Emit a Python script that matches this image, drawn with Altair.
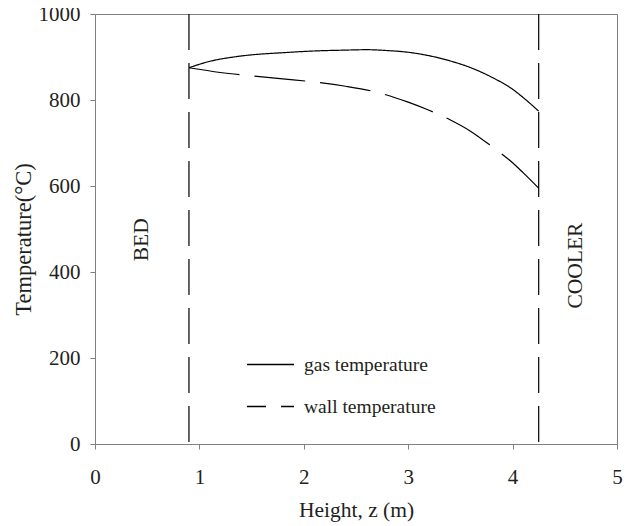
import altair as alt
import pandas as pd

# gas temperature curve
gas_z = [0.9, 1.1, 1.3, 1.5, 1.8, 2.1, 2.4, 2.6, 2.8, 3.0, 3.2, 3.4, 3.6, 3.8, 4.0, 4.1, 4.25]
gas_t = [875, 890, 899, 905, 910, 914, 916, 917, 915, 911, 903, 891, 875, 853, 825, 806, 774]

# wall temperature curve
wall_z = [0.9, 1.2, 1.5, 1.8, 2.1, 2.4, 2.7, 3.0, 3.2, 3.4, 3.6, 3.8, 4.0, 4.1, 4.25]
wall_t = [875, 864, 856, 849, 842, 832, 818, 795, 776, 754, 727, 692, 654, 631, 595]

series_names = ["gas temperature", "wall temperature"]

# zone boundaries
boundaries = [0.9, 4.25]

# zone labels
zone_labels = ["BED", "COOLER"]
zone_z = [0.45, 4.61]
zone_t = [475, 415]

x_ticks = [0, 1, 2, 3, 4, 5]
y_ticks = [0, 200, 400, 600, 800, 1000]

FONT = "Liberation Serif"
TXT = "#231f20"
AX = "#808080"

df = pd.concat([
    pd.DataFrame({"z": gas_z, "T": gas_t, "series": series_names[0]}),
    pd.DataFrame({"z": wall_z, "T": wall_t, "series": series_names[1]}),
])
bdf = pd.DataFrame({"z": boundaries})
zdf = pd.DataFrame({"z": zone_z, "T": zone_t, "label": zone_labels})

xscale = alt.Scale(domain=[0, 5], nice=False, zero=False)
yscale = alt.Scale(domain=[0, 1000], nice=False)

xaxis = alt.Axis(values=x_ticks, title="Height, z (m)", grid=False, format="d",
                 labelFont=FONT, labelFontSize=21, labelColor=TXT, labelPadding=17,
                 titleFont=FONT, titleFontSize=21.5, titleColor=TXT, titleFontWeight="normal",
                 titleY=72, titleBaseline="alphabetic",
                 domainColor=AX, tickColor=AX, tickSize=5, labelFlush=False)
yaxis = alt.Axis(values=y_ticks, title="Temperature(°C)", grid=False, format="d",
                 labelFont=FONT, labelFontSize=21, labelColor=TXT, labelPadding=10,
                 titleFont=FONT, titleFontSize=22.5, titleColor=TXT, titleFontWeight="normal",
                 titleX=-72, titleY=225, titleAngle=-90, titleAlign="center", titleBaseline="middle",
                 domainColor=AX, tickColor=AX, tickSize=5, labelFlush=False)

lines = alt.Chart(df).mark_line(color="black", strokeWidth=1.2, interpolate="monotone").encode(
    x=alt.X("z:Q", scale=xscale, axis=xaxis),
    y=alt.Y("T:Q", scale=yscale, axis=yaxis),
    strokeDash=alt.StrokeDash(
        "series:N",
        scale=alt.Scale(domain=series_names, range=[[1, 0], [51, 15]]),
        legend=alt.Legend(
            title=None, orient="none", legendX=151, legendY=326,
            symbolType="stroke", symbolSize=2209, symbolStrokeWidth=1.4,
            symbolStrokeColor="black", symbolDashOffset=32,
            labelFont=FONT, labelFontSize=19.5, labelColor=TXT, labelOffset=9,
            rowPadding=8, padding=0,
        ),
    ),
    detail="series:N",
)

rules = alt.Chart(bdf).mark_rule(color="black", strokeWidth=1.2, strokeDash=[36, 13]).encode(
    x=alt.X("z:Q", scale=xscale)
)

zones = alt.Chart(zdf).mark_text(font=FONT, fontSize=21.5, color=TXT, angle=270,
                                 align="center", baseline="middle").encode(
    x=alt.X("z:Q", scale=xscale),
    y=alt.Y("T:Q", scale=yscale),
    text="label:N",
)

chart = alt.layer(rules, lines, zones).properties(
    width=522, height=430,
    autosize=alt.AutoSizeParams(type="none"),
    padding={"left": 87, "top": 6, "right": 9, "bottom": 80},
    background="white",
).configure_view(stroke=AX, strokeWidth=1)

chart.save("out.html", embed_options={"renderer": "svg", "actions": False})
